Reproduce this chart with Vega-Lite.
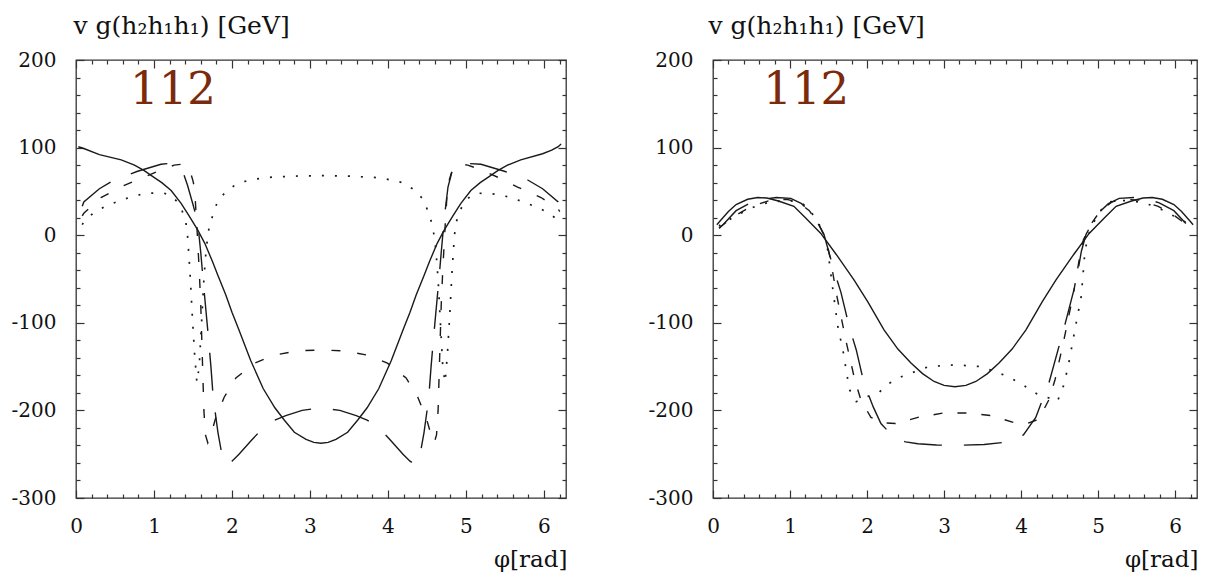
{
  "$schema": "https://vega.github.io/schema/vega-lite/v6.json",
  "background": "white",
  "padding": {"left": 10, "top": 12, "right": 5, "bottom": 0},
  "bounds": "flush",
  "spacing": 147,
  "config": {
    "view": {"stroke": "#333", "strokeWidth": 1.3},
    "axis": {
      "domain": false, "grid": false, "labelFlush": false, "labelOverlap": false,
      "labelFont": "DejaVu Serif", "labelFontSize": 20, "labelColor": "#111",
      "titleFont": "DejaVu Serif", "titleFontWeight": "normal", "titleColor": "#111",
      "tickColor": "#333", "tickWidth": 1.2
    }
  },
  "datasets": {
    "left": [
      {"s":"a","x":0.03,"y":101},{"s":"a","x":0.1,"y":99},{"s":"a","x":0.3,"y":92},{"s":"a","x":0.58,"y":86},{"s":"a","x":0.75,"y":80},{"s":"a","x":0.87,"y":74},{"s":"a","x":1.0,"y":66},{"s":"a","x":1.1,"y":60},{"s":"a","x":1.22,"y":51},{"s":"a","x":1.35,"y":36},{"s":"a","x":1.45,"y":22},{"s":"a","x":1.56,"y":6},{"s":"a","x":1.65,"y":-9},{"s":"a","x":1.75,"y":-30},{"s":"a","x":1.82,"y":-46},{"s":"a","x":1.92,"y":-68},{"s":"a","x":2.0,"y":-88},{"s":"a","x":2.08,"y":-106},{"s":"a","x":2.24,"y":-143},{"s":"a","x":2.4,"y":-175},{"s":"a","x":2.55,"y":-197},{"s":"a","x":2.67,"y":-211},{"s":"a","x":2.8,"y":-225},{"s":"a","x":2.95,"y":-233},{"s":"a","x":3.05,"y":-236.5},{"s":"a","x":3.14,"y":-237.5},{"s":"a","x":3.233,"y":-236.5},{"s":"a","x":3.333,"y":-233},{"s":"a","x":3.483,"y":-225},{"s":"a","x":3.613,"y":-211},{"s":"a","x":3.733,"y":-197},{"s":"a","x":3.883,"y":-175},{"s":"a","x":4.043,"y":-143},{"s":"a","x":4.203,"y":-106},{"s":"a","x":4.283,"y":-88},{"s":"a","x":4.363,"y":-68},{"s":"a","x":4.463,"y":-46},{"s":"a","x":4.533,"y":-30},{"s":"a","x":4.633,"y":-9},{"s":"a","x":4.723,"y":6},{"s":"a","x":4.833,"y":22},{"s":"a","x":4.933,"y":36},{"s":"a","x":5.063,"y":51},{"s":"a","x":5.183,"y":60},{"s":"a","x":5.283,"y":66},{"s":"a","x":5.413,"y":74},{"s":"a","x":5.533,"y":80},{"s":"a","x":5.703,"y":86},{"s":"a","x":5.983,"y":93},{"s":"a","x":6.1,"y":97},{"s":"a","x":6.183,"y":101},{"s":"a","x":6.22,"y":104},
      {"s":"b","x":0.08,"y":33},{"s":"b","x":0.1,"y":38},{"s":"b","x":0.3,"y":53},{"s":"b","x":0.49,"y":63},{"s":"b","x":0.79,"y":73},{"s":"b","x":1.09,"y":81},{"s":"b","x":1.2,"y":82},{"s":"b","x":1.3,"y":79},{"s":"b","x":1.38,"y":70},{"s":"b","x":1.43,"y":57},{"s":"b","x":1.5,"y":35},{"s":"b","x":1.56,"y":15},{"s":"b","x":1.6,"y":-20},{"s":"b","x":1.63,"y":-51},{"s":"b","x":1.69,"y":-109},{"s":"b","x":1.73,"y":-150},{"s":"b","x":1.76,"y":-186},{"s":"b","x":1.82,"y":-225},{"s":"b","x":1.87,"y":-250},{"s":"b","x":1.93,"y":-262},{"s":"b","x":2.0,"y":-258},{"s":"b","x":2.09,"y":-250},{"s":"b","x":2.25,"y":-234},{"s":"b","x":2.41,"y":-219},{"s":"b","x":2.55,"y":-211},{"s":"b","x":2.69,"y":-206},{"s":"b","x":2.9,"y":-200},{"s":"b","x":3.14,"y":-197},{"s":"b","x":3.383,"y":-200},{"s":"b","x":3.593,"y":-206},{"s":"b","x":3.733,"y":-211},{"s":"b","x":3.873,"y":-219},{"s":"b","x":4.033,"y":-234},{"s":"b","x":4.193,"y":-250},{"s":"b","x":4.283,"y":-258},{"s":"b","x":4.353,"y":-262},{"s":"b","x":4.413,"y":-250},{"s":"b","x":4.463,"y":-225},{"s":"b","x":4.523,"y":-186},{"s":"b","x":4.553,"y":-150},{"s":"b","x":4.593,"y":-109},{"s":"b","x":4.653,"y":-51},{"s":"b","x":4.683,"y":-20},{"s":"b","x":4.723,"y":20},{"s":"b","x":4.77,"y":55},{"s":"b","x":4.82,"y":72},{"s":"b","x":4.88,"y":80},{"s":"b","x":5.0,"y":82},{"s":"b","x":5.193,"y":81},{"s":"b","x":5.493,"y":73},{"s":"b","x":5.793,"y":63},{"s":"b","x":5.983,"y":53},{"s":"b","x":6.183,"y":38},{"s":"b","x":6.203,"y":33},
      {"s":"c","x":0.08,"y":22},{"s":"c","x":0.1,"y":25},{"s":"c","x":0.32,"y":43},{"s":"c","x":0.62,"y":57},{"s":"c","x":0.87,"y":66},{"s":"c","x":1.1,"y":75},{"s":"c","x":1.26,"y":80},{"s":"c","x":1.35,"y":81},{"s":"c","x":1.43,"y":78},{"s":"c","x":1.47,"y":71},{"s":"c","x":1.5,"y":62},{"s":"c","x":1.52,"y":54},{"s":"c","x":1.55,"y":10},{"s":"c","x":1.58,"y":-40},{"s":"c","x":1.6,"y":-80},{"s":"c","x":1.62,"y":-140},{"s":"c","x":1.64,"y":-200},{"s":"c","x":1.66,"y":-228},{"s":"c","x":1.69,"y":-237},{"s":"c","x":1.73,"y":-228},{"s":"c","x":1.79,"y":-209},{"s":"c","x":1.9,"y":-185},{"s":"c","x":2.05,"y":-163},{"s":"c","x":2.29,"y":-146},{"s":"c","x":2.54,"y":-137},{"s":"c","x":2.84,"y":-132},{"s":"c","x":3.14,"y":-131},{"s":"c","x":3.443,"y":-132},{"s":"c","x":3.743,"y":-137},{"s":"c","x":3.993,"y":-146},{"s":"c","x":4.233,"y":-163},{"s":"c","x":4.383,"y":-185},{"s":"c","x":4.493,"y":-209},{"s":"c","x":4.553,"y":-228},{"s":"c","x":4.593,"y":-237},{"s":"c","x":4.623,"y":-228},{"s":"c","x":4.643,"y":-200},{"s":"c","x":4.663,"y":-140},{"s":"c","x":4.683,"y":-80},{"s":"c","x":4.703,"y":-40},{"s":"c","x":4.733,"y":10},{"s":"c","x":4.763,"y":54},{"s":"c","x":4.783,"y":62},{"s":"c","x":4.813,"y":71},{"s":"c","x":4.853,"y":78},{"s":"c","x":4.933,"y":81},{"s":"c","x":5.023,"y":80},{"s":"c","x":5.183,"y":75},{"s":"c","x":5.413,"y":66},{"s":"c","x":5.663,"y":55},{"s":"c","x":5.963,"y":43},{"s":"c","x":6.183,"y":30},{"s":"c","x":6.203,"y":27},
      {"s":"d","x":0.08,"y":12},{"s":"d","x":0.1,"y":15},{"s":"d","x":0.23,"y":26},{"s":"d","x":0.4,"y":34},{"s":"d","x":0.58,"y":40},{"s":"d","x":0.75,"y":45},{"s":"d","x":0.92,"y":48},{"s":"d","x":1.13,"y":48},{"s":"d","x":1.22,"y":45},{"s":"d","x":1.3,"y":38},{"s":"d","x":1.36,"y":28},{"s":"d","x":1.41,"y":14},{"s":"d","x":1.43,"y":0},{"s":"d","x":1.46,"y":-40},{"s":"d","x":1.49,"y":-90},{"s":"d","x":1.52,"y":-135},{"s":"d","x":1.55,"y":-168},{"s":"d","x":1.58,"y":-150},{"s":"d","x":1.61,"y":-100},{"s":"d","x":1.64,"y":-50},{"s":"d","x":1.67,"y":-15},{"s":"d","x":1.71,"y":11},{"s":"d","x":1.82,"y":40},{"s":"d","x":1.95,"y":52},{"s":"d","x":2.09,"y":60},{"s":"d","x":2.3,"y":64},{"s":"d","x":2.46,"y":66},{"s":"d","x":2.8,"y":67.5},{"s":"d","x":3.14,"y":68},{"s":"d","x":3.483,"y":67.5},{"s":"d","x":3.823,"y":66},{"s":"d","x":3.983,"y":64},{"s":"d","x":4.193,"y":60},{"s":"d","x":4.333,"y":52},{"s":"d","x":4.463,"y":40},{"s":"d","x":4.573,"y":11},{"s":"d","x":4.613,"y":-15},{"s":"d","x":4.643,"y":-50},{"s":"d","x":4.673,"y":-100},{"s":"d","x":4.703,"y":-150},{"s":"d","x":4.733,"y":-168},{"s":"d","x":4.763,"y":-135},{"s":"d","x":4.793,"y":-90},{"s":"d","x":4.823,"y":-40},{"s":"d","x":4.853,"y":0},{"s":"d","x":4.873,"y":14},{"s":"d","x":4.923,"y":28},{"s":"d","x":4.983,"y":38},{"s":"d","x":5.063,"y":45},{"s":"d","x":5.153,"y":48},{"s":"d","x":5.363,"y":47},{"s":"d","x":5.533,"y":44},{"s":"d","x":5.703,"y":39},{"s":"d","x":5.883,"y":33},{"s":"d","x":6.053,"y":26},{"s":"d","x":6.183,"y":17},{"s":"d","x":6.203,"y":13}
    ],
    "right": [
      {"s":"a","x":0.05,"y":12},{"s":"a","x":0.1,"y":17},{"s":"a","x":0.2,"y":27},{"s":"a","x":0.3,"y":35},{"s":"a","x":0.45,"y":41},{"s":"a","x":0.58,"y":43},{"s":"a","x":0.7,"y":42.5},{"s":"a","x":0.85,"y":39},{"s":"a","x":1.05,"y":33},{"s":"a","x":1.2,"y":20},{"s":"a","x":1.4,"y":2},{"s":"a","x":1.6,"y":-22},{"s":"a","x":1.83,"y":-51},{"s":"a","x":2.01,"y":-76},{"s":"a","x":2.22,"y":-108},{"s":"a","x":2.4,"y":-130},{"s":"a","x":2.57,"y":-146},{"s":"a","x":2.72,"y":-158},{"s":"a","x":2.87,"y":-167},{"s":"a","x":3.0,"y":-171.5},{"s":"a","x":3.14,"y":-173},{"s":"a","x":3.283,"y":-171.5},{"s":"a","x":3.413,"y":-167},{"s":"a","x":3.563,"y":-158},{"s":"a","x":3.713,"y":-146},{"s":"a","x":3.883,"y":-130},{"s":"a","x":4.063,"y":-108},{"s":"a","x":4.273,"y":-76},{"s":"a","x":4.453,"y":-51},{"s":"a","x":4.683,"y":-22},{"s":"a","x":4.883,"y":2},{"s":"a","x":5.083,"y":20},{"s":"a","x":5.233,"y":33},{"s":"a","x":5.433,"y":39},{"s":"a","x":5.583,"y":42.5},{"s":"a","x":5.703,"y":43},{"s":"a","x":5.833,"y":41},{"s":"a","x":5.983,"y":35},{"s":"a","x":6.083,"y":27},{"s":"a","x":6.183,"y":17},{"s":"a","x":6.233,"y":12},
      {"s":"b","x":0.08,"y":8},{"s":"b","x":0.13,"y":12},{"s":"b","x":0.3,"y":28},{"s":"b","x":0.49,"y":37},{"s":"b","x":0.65,"y":41},{"s":"b","x":0.82,"y":43},{"s":"b","x":1.01,"y":42},{"s":"b","x":1.15,"y":36},{"s":"b","x":1.27,"y":26},{"s":"b","x":1.36,"y":14},{"s":"b","x":1.44,"y":1},{"s":"b","x":1.5,"y":-18},{"s":"b","x":1.57,"y":-40},{"s":"b","x":1.66,"y":-65},{"s":"b","x":1.77,"y":-105},{"s":"b","x":1.86,"y":-131},{"s":"b","x":1.96,"y":-169},{"s":"b","x":2.08,"y":-196},{"s":"b","x":2.18,"y":-215},{"s":"b","x":2.35,"y":-231},{"s":"b","x":2.5,"y":-236},{"s":"b","x":2.66,"y":-238},{"s":"b","x":2.9,"y":-239.5},{"s":"b","x":3.14,"y":-240},{"s":"b","x":3.52,"y":-239},{"s":"b","x":3.83,"y":-236},{"s":"b","x":4.03,"y":-228},{"s":"b","x":4.19,"y":-208},{"s":"b","x":4.36,"y":-169},{"s":"b","x":4.56,"y":-105},{"s":"b","x":4.71,"y":-54},{"s":"b","x":4.783,"y":-18},{"s":"b","x":4.843,"y":1},{"s":"b","x":4.923,"y":14},{"s":"b","x":5.013,"y":26},{"s":"b","x":5.133,"y":36},{"s":"b","x":5.273,"y":42},{"s":"b","x":5.463,"y":43},{"s":"b","x":5.633,"y":41},{"s":"b","x":5.793,"y":37},{"s":"b","x":5.983,"y":28},{"s":"b","x":6.153,"y":12},{"s":"b","x":6.203,"y":8},
      {"s":"c","x":0.08,"y":8},{"s":"c","x":0.1,"y":10},{"s":"c","x":0.3,"y":23},{"s":"c","x":0.5,"y":33},{"s":"c","x":0.75,"y":40},{"s":"c","x":0.95,"y":41},{"s":"c","x":1.1,"y":38},{"s":"c","x":1.25,"y":28},{"s":"c","x":1.37,"y":13},{"s":"c","x":1.47,"y":-5},{"s":"c","x":1.53,"y":-30},{"s":"c","x":1.6,"y":-66},{"s":"c","x":1.73,"y":-122},{"s":"c","x":1.84,"y":-165},{"s":"c","x":1.92,"y":-188},{"s":"c","x":2.05,"y":-208},{"s":"c","x":2.2,"y":-214},{"s":"c","x":2.37,"y":-215},{"s":"c","x":2.66,"y":-208},{"s":"c","x":2.99,"y":-203},{"s":"c","x":3.31,"y":-203},{"s":"c","x":3.61,"y":-206},{"s":"c","x":3.91,"y":-214},{"s":"c","x":4.08,"y":-215},{"s":"c","x":4.23,"y":-210},{"s":"c","x":4.36,"y":-188},{"s":"c","x":4.44,"y":-165},{"s":"c","x":4.55,"y":-122},{"s":"c","x":4.68,"y":-66},{"s":"c","x":4.75,"y":-30},{"s":"c","x":4.81,"y":-5},{"s":"c","x":4.91,"y":13},{"s":"c","x":5.03,"y":28},{"s":"c","x":5.18,"y":38},{"s":"c","x":5.33,"y":41},{"s":"c","x":5.53,"y":40},{"s":"c","x":5.78,"y":33},{"s":"c","x":5.98,"y":23},{"s":"c","x":6.18,"y":10},{"s":"c","x":6.2,"y":8},
      {"s":"d","x":0.08,"y":10},{"s":"d","x":0.1,"y":13},{"s":"d","x":0.26,"y":20},{"s":"d","x":0.4,"y":27},{"s":"d","x":0.58,"y":34},{"s":"d","x":0.75,"y":38},{"s":"d","x":0.95,"y":39.5},{"s":"d","x":1.14,"y":38},{"s":"d","x":1.25,"y":29},{"s":"d","x":1.36,"y":16},{"s":"d","x":1.43,"y":2},{"s":"d","x":1.49,"y":-17},{"s":"d","x":1.55,"y":-58},{"s":"d","x":1.62,"y":-104},{"s":"d","x":1.69,"y":-133},{"s":"d","x":1.77,"y":-176},{"s":"d","x":1.86,"y":-190},{"s":"d","x":1.95,"y":-186},{"s":"d","x":2.16,"y":-179},{"s":"d","x":2.29,"y":-169},{"s":"d","x":2.46,"y":-161},{"s":"d","x":2.8,"y":-150},{"s":"d","x":3.14,"y":-148},{"s":"d","x":3.48,"y":-150},{"s":"d","x":3.82,"y":-161},{"s":"d","x":3.99,"y":-169},{"s":"d","x":4.22,"y":-182},{"s":"d","x":4.37,"y":-186},{"s":"d","x":4.47,"y":-190},{"s":"d","x":4.55,"y":-172},{"s":"d","x":4.61,"y":-150},{"s":"d","x":4.69,"y":-112},{"s":"d","x":4.78,"y":-70},{"s":"d","x":4.83,"y":-17},{"s":"d","x":4.88,"y":2},{"s":"d","x":4.95,"y":16},{"s":"d","x":5.04,"y":29},{"s":"d","x":5.15,"y":38},{"s":"d","x":5.33,"y":39.5},{"s":"d","x":5.53,"y":38},{"s":"d","x":5.7,"y":34},{"s":"d","x":5.88,"y":27},{"s":"d","x":6.02,"y":20},{"s":"d","x":6.18,"y":13},{"s":"d","x":6.2,"y":10}
    ]
  },
  "hconcat": [
    {
      "width": 490, "height": 438,
      "data": {"name": "left"},
      "resolve": {"axis": {"x": "independent", "y": "independent"}},
      "layer": [
        {
          "transform": [{"filter": "datum.s == 'a'"}],
          "mark": {"type": "line", "color": "#1a1a1a", "strokeWidth": 1.4},
          "encoding": {
            "x": {"field": "x", "type": "quantitative", "scale": {"domain": [0, 6.2832], "nice": false, "zero": false},
                  "axis": {"orient": "bottom", "values": [0,1,2,3,4,5,6], "tickSize": -8, "labelPadding": 26, "title": "φ[rad]", "titleFontSize": 23, "titleAlign": "right", "titleBaseline": "alphabetic", "titleX": 491, "titleY": 68}},
            "y": {"field": "y", "type": "quantitative", "scale": {"domain": [-300, 200], "nice": false, "zero": false},
                  "axis": {"orient": "left", "values": [-300,-200,-100,0,100,200], "labelExpr": "datum.value < 0 ? '-' + abs(datum.value) : '' + datum.value", "tickSize": -8, "labelPadding": 28, "title": "v g(h₂h₁h₁) [GeV]", "titleFontSize": 25, "titleAngle": 0, "titleAlign": "left", "titleBaseline": "alphabetic", "titleX": -3, "titleY": -27}}
          }
        },
        {
          "transform": [{"filter": "datum.s == 'b'"}],
          "mark": {"type": "line", "color": "#1a1a1a", "strokeWidth": 1.4, "strokeDash": [38, 22]},
          "encoding": {
            "x": {"field": "x", "type": "quantitative", "scale": {"domain": [0, 6.2832], "nice": false, "zero": false},
                  "axis": {"orient": "top", "values": [0,1,2,3,4,5,6], "tickSize": -8, "labels": false, "title": null}},
            "y": {"field": "y", "type": "quantitative", "scale": {"domain": [-300, 200], "nice": false, "zero": false},
                  "axis": {"orient": "right", "values": [-300,-200,-100,0,100,200], "tickSize": -8, "labels": false, "title": null}}
          }
        },
        {
          "transform": [{"filter": "datum.s == 'c'"}],
          "mark": {"type": "line", "color": "#1a1a1a", "strokeWidth": 1.4, "strokeDash": [9, 17]},
          "encoding": {
            "x": {"field": "x", "type": "quantitative", "scale": {"domain": [0, 6.2832], "nice": false, "zero": false},
                  "axis": {"orient": "bottom", "values": [0.2,0.4,0.6,0.8,1.2,1.4,1.6,1.8,2.2,2.4,2.6,2.8,3.2,3.4,3.6,3.8,4.2,4.4,4.6,4.8,5.2,5.4,5.6,5.8,6.2], "tickSize": -4, "labels": false, "title": null}},
            "y": {"field": "y", "type": "quantitative", "scale": {"domain": [-300, 200], "nice": false, "zero": false},
                  "axis": {"orient": "left", "values": [-280,-260,-240,-220,-180,-160,-140,-120,-80,-60,-40,-20,20,40,60,80,120,140,160,180], "tickSize": -4, "labels": false, "title": null}}
          }
        },
        {
          "transform": [{"filter": "datum.s == 'd'"}],
          "mark": {"type": "line", "color": "#1a1a1a", "strokeWidth": 1.7, "strokeDash": [2, 11]},
          "encoding": {
            "x": {"field": "x", "type": "quantitative", "scale": {"domain": [0, 6.2832], "nice": false, "zero": false},
                  "axis": {"orient": "top", "values": [0.2,0.4,0.6,0.8,1.2,1.4,1.6,1.8,2.2,2.4,2.6,2.8,3.2,3.4,3.6,3.8,4.2,4.4,4.6,4.8,5.2,5.4,5.6,5.8,6.2], "tickSize": -4, "labels": false, "title": null}},
            "y": {"field": "y", "type": "quantitative", "scale": {"domain": [-300, 200], "nice": false, "zero": false},
                  "axis": {"orient": "right", "values": [-280,-260,-240,-220,-180,-160,-140,-120,-80,-60,-40,-20,20,40,60,80,120,140,160,180], "tickSize": -4, "labels": false, "title": null}}
          }
        },
        {
          "data": {"values": [{"x": 1.244, "y": 166, "t": "112"}]},
          "mark": {"type": "text", "font": "DejaVu Serif", "fontSize": 45, "color": "#7b2a0c", "align": "center", "baseline": "middle"},
          "encoding": {
            "x": {"field": "x", "type": "quantitative", "axis": null},
            "y": {"field": "y", "type": "quantitative", "axis": null},
            "text": {"field": "t"}
          }
        }
      ]
    },
    {
      "width": 484, "height": 438,
      "data": {"name": "right"},
      "resolve": {"axis": {"x": "independent", "y": "independent"}},
      "layer": [
        {
          "transform": [{"filter": "datum.s == 'a'"}],
          "mark": {"type": "line", "color": "#1a1a1a", "strokeWidth": 1.4},
          "encoding": {
            "x": {"field": "x", "type": "quantitative", "scale": {"domain": [0, 6.2832], "nice": false, "zero": false},
                  "axis": {"orient": "bottom", "values": [0,1,2,3,4,5,6], "tickSize": -8, "labelPadding": 26, "title": "φ[rad]", "titleFontSize": 23, "titleAlign": "right", "titleBaseline": "alphabetic", "titleX": 485, "titleY": 68}},
            "y": {"field": "y", "type": "quantitative", "scale": {"domain": [-300, 200], "nice": false, "zero": false},
                  "axis": {"orient": "left", "values": [-300,-200,-100,0,100,200], "labelExpr": "datum.value < 0 ? '-' + abs(datum.value) : '' + datum.value", "tickSize": -8, "labelPadding": 28, "title": "v g(h₂h₁h₁) [GeV]", "titleFontSize": 25, "titleAngle": 0, "titleAlign": "left", "titleBaseline": "alphabetic", "titleX": -5, "titleY": -27}}
          }
        },
        {
          "transform": [{"filter": "datum.s == 'b'"}],
          "mark": {"type": "line", "color": "#1a1a1a", "strokeWidth": 1.4, "strokeDash": [38, 22]},
          "encoding": {
            "x": {"field": "x", "type": "quantitative", "scale": {"domain": [0, 6.2832], "nice": false, "zero": false},
                  "axis": {"orient": "top", "values": [0,1,2,3,4,5,6], "tickSize": -8, "labels": false, "title": null}},
            "y": {"field": "y", "type": "quantitative", "scale": {"domain": [-300, 200], "nice": false, "zero": false},
                  "axis": {"orient": "right", "values": [-300,-200,-100,0,100,200], "tickSize": -8, "labels": false, "title": null}}
          }
        },
        {
          "transform": [{"filter": "datum.s == 'c'"}],
          "mark": {"type": "line", "color": "#1a1a1a", "strokeWidth": 1.4, "strokeDash": [9, 15]},
          "encoding": {
            "x": {"field": "x", "type": "quantitative", "scale": {"domain": [0, 6.2832], "nice": false, "zero": false},
                  "axis": {"orient": "bottom", "values": [0.2,0.4,0.6,0.8,1.2,1.4,1.6,1.8,2.2,2.4,2.6,2.8,3.2,3.4,3.6,3.8,4.2,4.4,4.6,4.8,5.2,5.4,5.6,5.8,6.2], "tickSize": -4, "labels": false, "title": null}},
            "y": {"field": "y", "type": "quantitative", "scale": {"domain": [-300, 200], "nice": false, "zero": false},
                  "axis": {"orient": "left", "values": [-280,-260,-240,-220,-180,-160,-140,-120,-80,-60,-40,-20,20,40,60,80,120,140,160,180], "tickSize": -4, "labels": false, "title": null}}
          }
        },
        {
          "transform": [{"filter": "datum.s == 'd'"}],
          "mark": {"type": "line", "color": "#1a1a1a", "strokeWidth": 1.7, "strokeDash": [2, 11]},
          "encoding": {
            "x": {"field": "x", "type": "quantitative", "scale": {"domain": [0, 6.2832], "nice": false, "zero": false},
                  "axis": {"orient": "top", "values": [0.2,0.4,0.6,0.8,1.2,1.4,1.6,1.8,2.2,2.4,2.6,2.8,3.2,3.4,3.6,3.8,4.2,4.4,4.6,4.8,5.2,5.4,5.6,5.8,6.2], "tickSize": -4, "labels": false, "title": null}},
            "y": {"field": "y", "type": "quantitative", "scale": {"domain": [-300, 200], "nice": false, "zero": false},
                  "axis": {"orient": "right", "values": [-280,-260,-240,-220,-180,-160,-140,-120,-80,-60,-40,-20,20,40,60,80,120,140,160,180], "tickSize": -4, "labels": false, "title": null}}
          }
        },
        {
          "data": {"values": [{"x": 1.21, "y": 166, "t": "112"}]},
          "mark": {"type": "text", "font": "DejaVu Serif", "fontSize": 45, "color": "#7b2a0c", "align": "center", "baseline": "middle"},
          "encoding": {
            "x": {"field": "x", "type": "quantitative", "axis": null},
            "y": {"field": "y", "type": "quantitative", "axis": null},
            "text": {"field": "t"}
          }
        }
      ]
    }
  ]
}
